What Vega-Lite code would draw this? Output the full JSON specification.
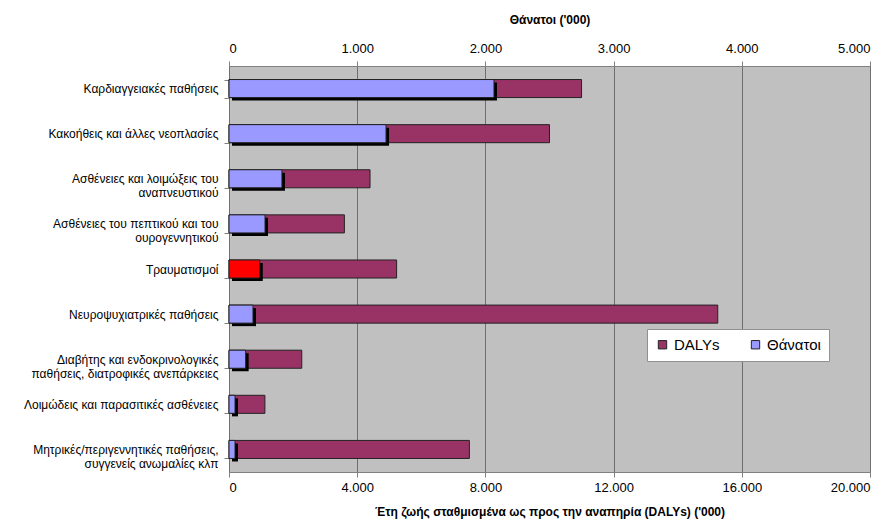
{
  "$schema": "https://vega.github.io/schema/vega-lite/v6.json",
  "width": 641,
  "height": 406,
  "padding": {"left": 23, "top": 13, "right": 23, "bottom": 5},
  "config": {
    "font": "Liberation Sans",
    "view": {"fill": "#C0C0C0", "stroke": "#808080", "strokeWidth": 1},
    "axis": {"labelColor": "#000", "titleColor": "#000", "labelFont": "Liberation Sans", "titleFont": "Liberation Sans", "labelFontSize": 13, "titleFontSize": 12, "titleFontWeight": "bold", "domainColor": "#808080", "tickColor": "#808080"}
  },
  "data": {"values": [
    {"cat": "Καρδιαγγειακές παθήσεις", "dalys": 11000, "deaths": 2067},
    {"cat": "Κακοήθεις και άλλες νεοπλασίες", "dalys": 10000, "deaths": 1225},
    {"cat": "Ασθένειες και λοιμώξεις του\nαναπνευστικού", "dalys": 4400, "deaths": 413},
    {"cat": "Ασθένειες του πεπτικού και του\nουρογεννητικού", "dalys": 3600, "deaths": 281},
    {"cat": "Τραυματισμοί", "dalys": 5230, "deaths": 240},
    {"cat": "Νευροψυχιατρικές παθήσεις", "dalys": 15250, "deaths": 187},
    {"cat": "Διαβήτης και ενδοκρινολογικές\nπαθήσεις, διατροφικές ανεπάρκειες", "dalys": 2270, "deaths": 130},
    {"cat": "Λοιμώδεις και παρασιτικές ασθένειες", "dalys": 1120, "deaths": 47},
    {"cat": "Μητρικές/περιγεννητικές παθήσεις,\nσυγγενείς ανωμαλίες κλπ", "dalys": 7500, "deaths": 47}
  ]},
  "encoding": {
    "y": {"field": "cat", "type": "nominal", "sort": null, "title": null,
      "scale": {"paddingInner": 0.6, "paddingOuter": 0.3},
      "axis": {"labelExpr": "split(datum.label, '\\n')", "labelFontSize": 12, "labelLimit": 300, "tickBand": "extent", "tickSize": 5, "labelPadding": 6, "labelLineHeight": 14, "domain": false}}
  },
  "layer": [
    {
      "mark": {"type": "bar", "stroke": "#222", "strokeWidth": 1},
      "encoding": {
        "x": {"field": "dalys", "type": "quantitative", "scale": {"domain": [0, 20000]},
          "axis": {"orient": "bottom", "values": [0, 4000, 8000, 12000, 16000, 20000], "labelExpr": "replace(format(datum.value, ','), ',', '.')", "title": "Έτη ζωής σταθμισμένα ως προς την αναπηρία (DALYs) ('000)", "grid": true, "gridColor": "#707070", "gridOpacity": 1, "tickSize": 5, "titlePadding": 12, "labelPadding": 4}},
        "color": {"datum": "DALYs", "type": "nominal",
          "scale": {"domain": ["DALYs", "Θάνατοι"], "range": ["#993366", "#9999FF"]},
          "legend": {"title": null, "orient": "none", "legendX": 418, "legendY": 263, "direction": "horizontal", "fillColor": "#FFFFFF", "strokeColor": "#909090", "padding": 8, "symbolType": "square", "symbolSize": 70, "symbolStrokeColor": "#333", "symbolStrokeWidth": 1, "labelFontSize": 15, "labelFont": "Liberation Sans", "labelColor": "#000", "columnPadding": 28, "symbolOpacity": 1}}
      }
    },
    {
      "encoding": {
        "x": {"field": "deaths", "type": "quantitative", "scale": {"domain": [0, 5000]},
          "axis": {"orient": "top", "values": [0, 1000, 2000, 3000, 4000, 5000], "labelExpr": "replace(format(datum.value, ','), ',', '.')", "title": "Θάνατοι ('000)", "grid": false, "tickSize": 5, "titlePadding": 16, "labelPadding": 6}}
      },
      "layer": [
        {"mark": {"type": "bar", "color": "#000000", "xOffset": 3, "yOffset": 3}},
        {"mark": {"type": "bar", "stroke": "#222", "strokeWidth": 1},
          "encoding": {
            "color": {"condition": {"test": "datum.cat === 'Τραυματισμοί'", "value": "#FF0000"}, "datum": "Θάνατοι", "type": "nominal"}
          }}
      ]
    }
  ],
  "resolve": {"scale": {"x": "independent"}}
}
